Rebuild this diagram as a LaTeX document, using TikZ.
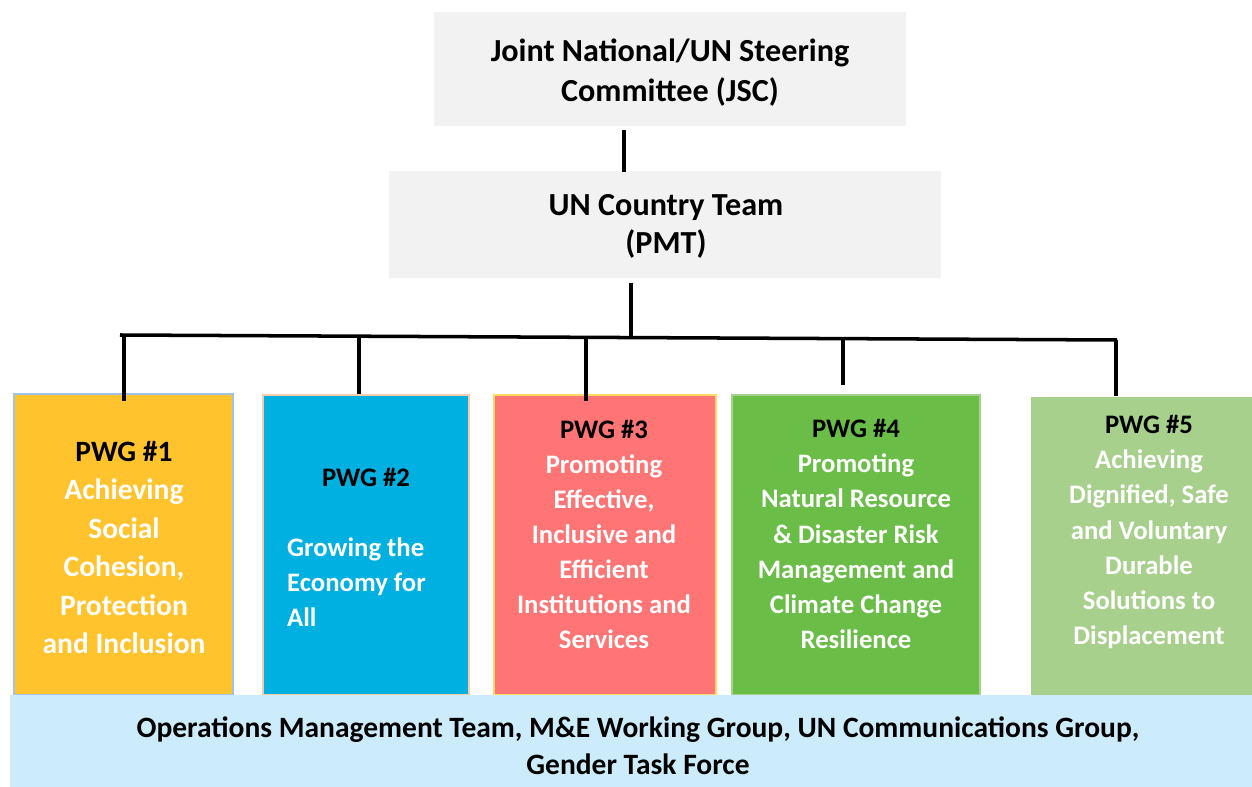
\documentclass[tikz,border=0pt]{standalone}
\usepackage{fontspec}
\setmainfont{Carlito}
\usetikzlibrary{positioning}
\definecolor{headgray}{HTML}{F2F2F2}
\definecolor{pwgyellow}{HTML}{FFC32E}
\definecolor{pwgblue}{HTML}{00B0E0}
\definecolor{pwgred}{HTML}{FF7474}
\definecolor{pwggreen}{HTML}{6ABD46}
\definecolor{pwglime}{HTML}{A8D08D}
\definecolor{opsblue}{HTML}{CCECFB}
\definecolor{edgeblue}{HTML}{9DC3E6}
\definecolor{edgepeach}{HTML}{F8CBAD}
\definecolor{edgegold}{HTML}{FFD966}
\definecolor{edgegreen}{HTML}{A9D18E}

\begin{document}
\begin{tikzpicture}[x=0.02cm, y=-0.02cm,
    head/.style={fill=headgray, inner sep=0pt},
    pwg/.style={inner sep=0pt, line width=1.2pt, minimum height=6cm},
    headtxt/.style={align=center, font=\fontsize{18.3}{22.7}\bfseries\selectfont},
    pwgtxt/.style={align=center, text=white, font=\fontsize{15.2}{20}\bfseries\selectfont},
    link/.style={line width=2pt, draw=black}]
    \useasboundingbox (0,0) rectangle (1252,787);

    % steering committee and country team
    \node[head, minimum width=9.44cm, minimum height=2.28cm] (jsc) at (670,69) {};
    \node[headtxt] (jsct) at (670,73) {Joint National/UN Steering\\Committee (JSC)};
    \node[head, minimum width=11.04cm, minimum height=2.14cm] (unct) at (665,224.5) {};
    \node[headtxt, font=\fontsize{18.3}{21.5}\bfseries\selectfont] (unctt) at (666,226.5) {UN Country Team\\(PMT)};

    % the five working groups
    \node[pwg, fill=pwgyellow, draw=edgeblue,  minimum width=4.38cm, minimum height=6.02cm] (p1) at (123.5,544.5) {};
    \node[pwg, fill=pwgblue,   draw=edgepeach, minimum width=4.12cm] (p2) at (366,545) {};
    \node[pwg, fill=pwgred,    draw=edgegold,  minimum width=4.44cm] (p3) at (605,545) {};
    \node[pwg, fill=pwggreen,  draw=edgegreen, minimum width=4.96cm] (p4) at (856,545) {};
    \node[pwg, fill=pwglime, minimum width=4.42cm, minimum height=5.96cm] (p5) at (1141.5,546) {};

    \node[pwgtxt, font=\fontsize{16.8}{21.9}\bfseries\selectfont] (t1) at (124,547.5)
      {\textcolor{black}{PWG \#1}\\Achieving\\Social\\Cohesion,\\Protection\\and Inclusion};
    \node[pwgtxt, text=black] (t2a) at (366,477) {PWG \#2};
    \node[pwgtxt, align=left, anchor=west] (t2) at (281,582) {Growing the\\Economy for\\All};
    \node[pwgtxt] (t3) at (604,534.5)
      {\textcolor{black}{PWG \#3}\\Promoting\\Effective,\\Inclusive and\\Efficient\\Institutions and\\Services};
    \node[pwgtxt] (t4) at (856,534)
      {\textcolor{black}{PWG \#4}\\Promoting\\Natural Resource\\\& Disaster Risk\\Management and\\Climate Change\\Resilience};
    \node[pwgtxt] (t5) at (1149,532)
      {\textcolor{black}{PWG \#5}\\Achieving\\Dignified, Safe\\and Voluntary\\Durable\\Solutions to\\Displacement};

    % support groups along the bottom
    \node[fill=opsblue, inner sep=0pt, minimum width=24.84cm, minimum height=1.84cm] (ops) at (631,741) {};
    \node[headtxt, font=\fontsize{16.8}{21}\bfseries\selectfont] (opst) at (638,745.5)
      {Operations Management Team, M\&E Working Group, UN Communications Group,\\Gender Task Force};

    % connectors
    \coordinate (barL) at (120,335);
    \coordinate (barR) at (1117,340);
    \coordinate (b0) at (631,337.6);
    \coordinate (b1) at (124,335);
    \coordinate (b2) at (359,336.2);
    \coordinate (b3) at (586,337.3);
    \coordinate (b4) at (843,338.6);
    \coordinate (b5) at (1116,340);
    \draw[link] ([shift={(-46,4)}]jsc.south) -- ([shift={(-41,1)}]unct.north);
    \draw[link] ([shift={(-34,5)}]unct.south) -- (b0);
    \draw[link] (barL) -- (barR);
    \draw[link] (b1) -- ([shift={(0.5,8)}]p1.north);
    \draw[link] (b2) -- ([shift={(-7,0)}]p2.north);
    \draw[link] (b3) -- ([shift={(-19,7)}]p3.north);
    \draw[link] (b4) -- ([shift={(-13,-9)}]p4.north);
    \draw[link] (b5) -- ([shift={(-25.5,0)}]p5.north);
\end{tikzpicture}
\end{document}
